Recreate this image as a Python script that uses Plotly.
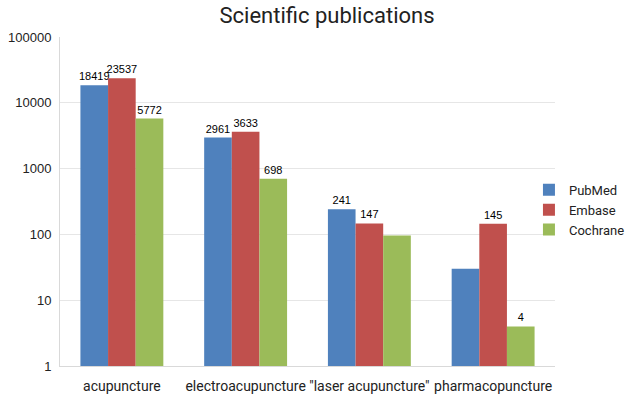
import plotly.graph_objects as go

categories = ["acupuncture", "electroacupuncture", "\"laser acupuncture\"", "pharmacopuncture"]
pubmed = [18419, 2961, 241, 30]
embase = [23537, 3633, 147, 145]
cochrane = [5772, 698, 96, 4]
pubmed_labels = ["18419", "2961", "241", ""]
embase_labels = ["23537", "3633", "147", "145"]
cochrane_labels = ["5772", "698", "", "4"]
tick_vals = [1, 10, 100, 1000, 10000, 100000]
tick_text = ["1", "10", "100", "1000", "10000", "100000"]

series = [
    ("PubMed", pubmed, pubmed_labels, "#4F81BD"),
    ("Embase", embase, embase_labels, "#C0504D"),
    ("Cochrane", cochrane, cochrane_labels, "#9BBB59"),
]

fig = go.Figure()
for name, vals, labels, color in series:
    fig.add_trace(go.Bar(
        name=name, x=categories, y=vals, text=labels,
        textposition="outside", cliponaxis=False, constraintext="none",
        textfont=dict(family="Liberation Sans, Arial", size=11, color="#000000"),
        marker=dict(color=color, line=dict(width=0)),
    ))

fig.update_layout(
    width=635, height=402,
    margin=dict(l=60, r=80, t=37, b=36, autoexpand=False),
    paper_bgcolor="white", plot_bgcolor="white",
    barmode="group", bargap=0.33, bargroupgap=0,
    title=dict(text="Scientific publications", x=0.515, xanchor="center",
               xref="container", yref="container", y=0.963, yanchor="middle",
               font=dict(family="Roboto", size=22, color="#222222")),
    legend=dict(xref="container", yref="container", x=0.833, y=0.478,
                xanchor="left", yanchor="middle",
                font=dict(family="Roboto", size=13, color="#222222"),
                itemwidth=30, tracegroupgap=0, bgcolor="rgba(0,0,0,0)"),
    xaxis=dict(showline=True, linecolor="#d9d9d9", ticks="", automargin=False,
               ticklabelstandoff=7,
               tickfont=dict(family="Roboto", size=14, color="#222222")),
    yaxis=dict(type="log", range=[0, 5], tickvals=tick_vals, ticktext=tick_text,
               showgrid=True, gridcolor="#e6e6e6", showline=True, linecolor="#d9d9d9",
               zeroline=False, ticks="", automargin=False, ticklabelstandoff=5,
               tickfont=dict(family="Liberation Sans, Arial", size=13, color="#222222")),
)

fig.write_html("out.html", config={"displayModeBar": False},
               post_script="document.body.style.margin='0';")
